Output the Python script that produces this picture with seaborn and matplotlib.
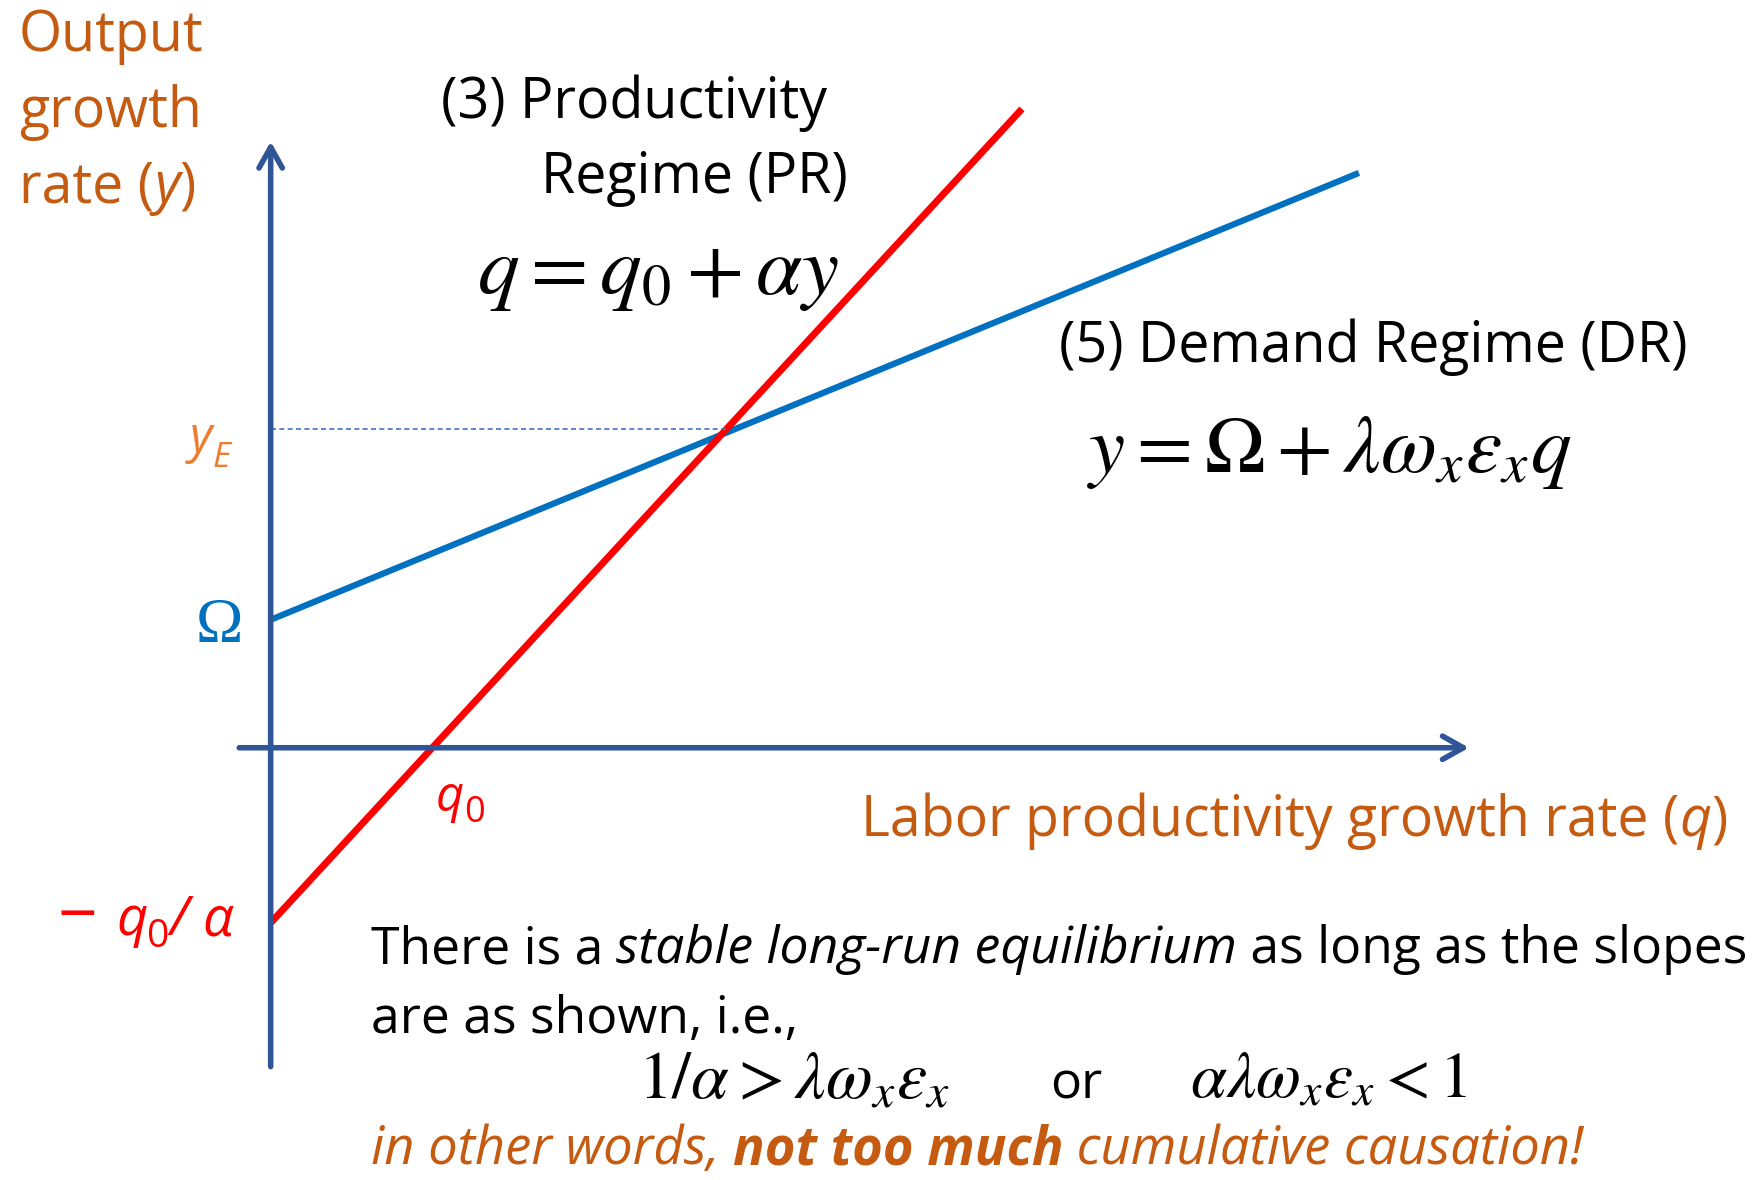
import numpy as np
import pandas as pd
import seaborn as sns
import matplotlib.pyplot as plt
from matplotlib import transforms

# Demand regime (blue) and productivity regime (red), in model units
dr_q = [0.0, 9.69]
dr_y = [1.14, 5.12]
pr_q = [0.0, 6.69]
pr_y = [-1.56, 5.69]

# equilibrium and intercepts
q_e, y_e = 4.06, 2.84
q0 = 1.44
omega = 1.14
neg_q0_alpha = -1.56

ORANGE = '#C55A11'
LIGHT_ORANGE = '#ED7D31'
BLUE = '#0070C0'
RED = '#FF0000'
AXIS = '#2F5597'
SANS = ['Open Sans', 'DejaVu Sans']

sns.set_style('white')
plt.rcParams['font.family'] = SANS
plt.rcParams['text.color'] = 'black'

fig = plt.figure(figsize=(17.61, 11.80), dpi=100)
ax = fig.add_axes([0, 0, 1, 1])

# axes with arrows
arrow = dict(arrowstyle='->,head_length=0.75,head_width=0.42', lw=4,
             color=AXIS, shrinkA=0, shrinkB=0, mutation_scale=20)
ax.annotate('', xy=(0, 5.40), xytext=(0, -2.84), arrowprops=arrow)
ax.annotate('', xy=(10.67, 0), xytext=(-0.28, 0), arrowprops=arrow)

dr = pd.DataFrame({'q': dr_q, 'y': dr_y})
pr = pd.DataFrame({'q': pr_q, 'y': pr_y})
sns.lineplot(data=dr, x='q', y='y', ax=ax, color=BLUE, lw=4.5,
             solid_capstyle='butt')
sns.lineplot(data=pr, x='q', y='y', ax=ax, color=RED, lw=5,
             solid_capstyle='butt')
ax.plot([0, q_e], [y_e, y_e], color='#4472C4', lw=1.2, ls=(0, (3, 2)))
ax.set_xlim(-2.41, 13.27)
ax.set_ylim(-3.85, 6.66)
ax.axis('off')

renderer = fig.canvas.get_renderer()


def rich(x, y, parts, size, ha='left'):
    """Draw runs of differently styled text one after another."""
    widths = []
    for p in parts:
        s, kw = p[0], p[1]
        kw2 = {k: v for k, v in kw.items() if k != 'size'}
        t = ax.text(0, 0, s, fontsize=kw.get('size', size), **kw2)
        widths.append(t.get_window_extent(renderer).width)
        t.remove()
    px, py = ax.transData.transform((x, y))
    total = sum(widths)
    if ha == 'right':
        px -= total
    elif ha == 'center':
        px -= total / 2
    for p, w in zip(parts, widths):
        s, kw = p[0], p[1]
        dy = p[2] if len(p) > 2 else 0
        kw2 = {k: v for k, v in kw.items() if k != 'size'}
        ax.text(px, py + dy, s, fontsize=kw.get('size', size), va='baseline',
                transform=transforms.IdentityTransform(), **kw2)
        px += w


HEAD = 40
NOTE = 37.2
it = dict(style='italic')

# y axis label
ax.text(-2.24, 6.21, 'Output', color=ORANGE, fontsize=HEAD, va='baseline')
ax.text(-2.24, 5.53, 'growth', color=ORANGE, fontsize=HEAD, va='baseline')
rich(-2.24, 4.86, [('rate (', dict(color=ORANGE)), ('y', dict(color=ORANGE, style='italic')),
                   (')', dict(color=ORANGE))], HEAD)

# productivity regime
ax.text(1.52, 5.61, '(3) Productivity', fontsize=HEAD, va='baseline')
ax.text(5.14, 4.94, 'Regime (PR)', fontsize=HEAD, va='baseline', ha='right')
ax.text(1.84, 4.04, r'$q = q_0 + \alpha y$', fontsize=60, va='baseline',
        math_fontfamily='stix')

# demand regime
ax.text(7.02, 3.44, '(5) Demand Regime (DR)', fontsize=HEAD, va='baseline')
ax.text(7.27, 2.46, r'$y = \Omega + \lambda\omega_x\varepsilon_x q$', fontsize=58.5,
        va='baseline', math_fontfamily='stix')

# axis point labels
rich(-0.36, y_e - 0.21, [('y', dict(color=LIGHT_ORANGE, style='italic')),
                         ('E', dict(color=LIGHT_ORANGE, style='italic', size=25), -15)], 35, ha='right')
ax.text(-0.46, omega - 0.2, '\u03a9', color=BLUE, fontsize=46, ha='center',
        va='baseline', family=['Liberation Serif'])
rich(q0 + 0.03, -0.56, [('q', dict(color=RED, style='italic')),
                        ('0', dict(color=RED, size=26), -11)], 35)
rich(-0.33, neg_q0_alpha - 0.11, [('\u2212 ', dict(color=RED, size=50), -2),
                                  ('q', dict(color=RED, style='italic')),
                                  ('0', dict(color=RED, size=28), -12),
                                  ('/ ', dict(color=RED, style='italic')),
                                  ('\u03b1', dict(color=RED, style='italic'))], 39, ha='right')

# x axis label
rich(12.97, -0.79, [('Labor productivity growth rate (', dict(color=ORANGE)),
                    ('q', dict(color=ORANGE, style='italic')),
                    (')', dict(color=ORANGE))], HEAD, ha='right')

# stability note
rich(0.89, -1.92, [('There is a ', {}), ('stable long-run equilibrium', it),
                   (' as long as the slopes', {})], NOTE)
ax.text(0.89, -2.54, 'are as shown, i.e.,', fontsize=NOTE, va='baseline')
ax.text(3.27, -3.12, r'$1/\alpha > \lambda\omega_x\varepsilon_x$', fontsize=49,
        va='baseline', math_fontfamily='stix')
ax.text(6.94, -3.12, 'or', fontsize=NOTE, va='baseline')
ax.text(8.19, -3.12, r'$\alpha\lambda\omega_x\varepsilon_x < 1$', fontsize=47,
        va='baseline', math_fontfamily='stix')
rich(0.89, -3.71, [('in other words, ', dict(color=ORANGE, style='italic')),
                   ('not too much', dict(color=ORANGE, style='italic', weight='bold')),
                   (' cumulative causation!', dict(color=ORANGE, style='italic'))], 37.8)

fig.savefig('out.png', dpi=100)
